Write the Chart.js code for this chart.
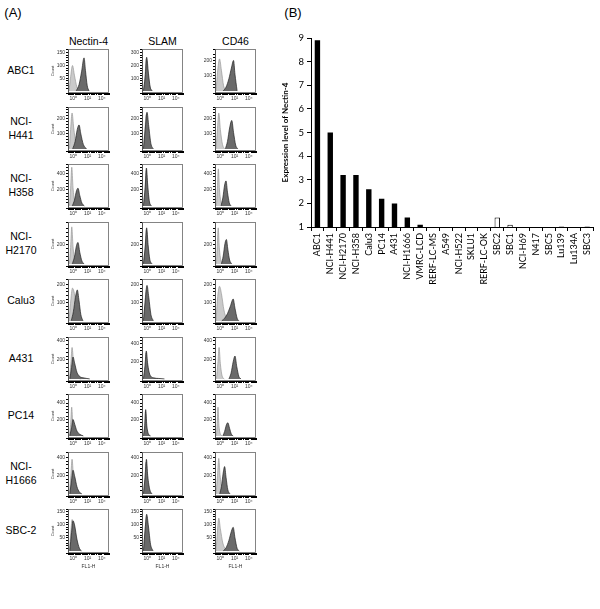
<!DOCTYPE html>
<html>
<head>
<meta charset="utf-8">
<script src="https://cdn.jsdelivr.net/npm/chart.js@4.4.1/dist/chart.umd.min.js"></script>
<style>
  body { margin: 0; background: #fff; }
  #fig { position: relative; width: 600px; height: 609px; overflow: hidden; background: #fff;
         font-family: 'Liberation Sans', Arial, sans-serif; color: #000; }
  .lbl { position: absolute; white-space: pre-line; text-align: center; transform: translate(-50%, -50%); }
  canvas { position: absolute; }
</style>
</head>
<body>
<div id="fig"></div>
<script>
// ---- panel A data ----
const cellLines = ['ABC1', 'NCI-\nH441', 'NCI-\nH358', 'NCI-\nH2170', 'Calu3', 'A431', 'PC14', 'NCI-\nH1666', 'SBC-2'];
const markers = ['Nectin-4', 'SLAM', 'CD46'];

// y axis top (count) and labelled step, per row, per marker
const yMaxes = [
  [165, 330, 275], [280, 280, 280], [520, 520, 520], [430, 430, 430], [230, 230, 230],
  [440, 480, 440], [510, 510, 510], [460, 460, 460], [160, 160, 160]
];
const yMajor = [
  [50, 100, 100], [100, 100, 100], [200, 200, 200], [200, 200, 200], [100, 100, 100],
  [200, 200, 200], [200, 200, 200], [200, 200, 200], [50, 50, 50]
];
// x axis is log10(FL1-H); labelled decades
const xTickValues = [0, 2, 4];
const xTickLabels = ['10\u2070', '10\u00B2', '10\u2074'];

// histogram outlines: [log10 FL1-H, count], one list per marker (Nectin-4, SLAM, CD46)
const abc1Ctrl = [
  [[-0.6, 0], [-0.4, 50], [-0.12, 100], [0.15, 62], [0.5, 15], [0.95, 0]],
  [[-0.55, 0], [-0.35, 100], [-0.15, 250], [0.1, 130], [0.35, 30], [0.65, 0]],
  [[-0.6, 0], [-0.4, 120], [-0.12, 210], [0.15, 135], [0.45, 35], [0.85, 0]]
];
const abc1Sample = [
  [[0.4, 0], [0.8, 25], [1.15, 75], [1.5, 130], [1.7, 80], [1.95, 20], [2.2, 0]],
  [[-0.55, 0], [-0.3, 110], [-0.1, 265], [0.15, 140], [0.4, 30], [0.7, 0]],
  [[0.4, 0], [0.8, 25], [1.2, 80], [1.55, 150], [1.85, 200], [2.05, 110], [2.35, 0]]
];
const h441Ctrl = [
  [[-0.55, 0], [-0.38, 130], [-0.18, 240], [0.05, 140], [0.35, 40], [0.7, 0]],
  [[-0.55, 0], [-0.35, 120], [-0.15, 230], [0.1, 120], [0.35, 25], [0.65, 0]],
  [[-0.6, 0], [-0.42, 120], [-0.22, 240], [0, 130], [0.3, 30], [0.6, 0]]
];
const h441Sample = [
  [[-0.1, 0], [0.25, 50], [0.55, 130], [0.8, 160], [1.05, 100], [1.4, 30], [1.85, 0]],
  [[-0.55, 0], [-0.3, 130], [-0.05, 245], [0.2, 150], [0.5, 35], [0.85, 0]],
  [[0.7, 0], [1.0, 50], [1.3, 140], [1.6, 190], [1.85, 110], [2.15, 25], [2.45, 0]]
];
const h358Ctrl = [
  [[-0.55, 0], [-0.38, 220], [-0.22, 480], [-0.05, 230], [0.2, 50], [0.5, 0]],
  [[-0.55, 0], [-0.33, 200], [-0.16, 440], [0, 220], [0.25, 40], [0.5, 0]],
  [[-0.55, 0], [-0.42, 220], [-0.28, 460], [-0.12, 200], [0.12, 40], [0.45, 0]]
];
const h358Sample = [
  [[-0.15, 0], [0.15, 70], [0.45, 190], [0.65, 220], [0.9, 130], [1.2, 35], [1.55, 0]],
  [[-0.55, 0], [-0.3, 230], [-0.13, 470], [0.05, 260], [0.3, 50], [0.6, 0]],
  [[0.1, 0], [0.35, 100], [0.6, 260], [0.8, 310], [1.0, 170], [1.25, 40], [1.5, 0]]
];
const h2170Ctrl = [
  [[-0.55, 0], [-0.38, 170], [-0.22, 380], [-0.05, 180], [0.2, 40], [0.5, 0]],
  [[-0.55, 0], [-0.32, 160], [-0.13, 350], [0.05, 170], [0.3, 30], [0.55, 0]],
  [[-0.55, 0], [-0.43, 180], [-0.3, 370], [-0.15, 170], [0.08, 35], [0.4, 0]]
];
const h2170Sample = [
  [[-0.15, 0], [0.15, 70], [0.45, 190], [0.65, 220], [0.9, 120], [1.2, 30], [1.5, 0]],
  [[-0.55, 0], [-0.3, 170], [-0.1, 370], [0.1, 200], [0.35, 45], [0.65, 0]],
  [[0.15, 0], [0.4, 80], [0.65, 210], [0.85, 250], [1.05, 150], [1.3, 40], [1.6, 0]]
];
const calu3Ctrl = [
  [[-0.6, 0], [-0.4, 95], [-0.12, 180], [0.15, 150], [0.45, 70], [0.8, 15], [1.1, 0]],
  [[-0.55, 0], [-0.35, 90], [-0.15, 170], [0.1, 100], [0.35, 25], [0.65, 0]],
  [[-0.6, 0], [-0.4, 120], [-0.12, 190], [0.15, 150], [0.5, 60], [0.85, 15], [1.2, 0]]
];
const calu3Sample = [
  [[-0.3, 0], [0, 50], [0.3, 130], [0.55, 170], [0.8, 110], [1.05, 35], [1.35, 0]],
  [[-0.55, 0], [-0.32, 100], [-0.05, 195], [0.2, 130], [0.5, 35], [0.85, 0]],
  [[0.2, 0], [0.6, 15], [1.0, 40], [1.4, 80], [1.8, 120], [2.05, 70], [2.35, 15], [2.6, 0]]
];
const a431Ctrl = [
  [[-0.55, 0], [-0.35, 160], [-0.18, 330], [0, 200], [0.3, 60], [0.7, 10], [1.1, 0]],
  [[-0.55, 0], [-0.35, 130], [-0.18, 300], [0, 150], [0.3, 35], [0.6, 0]],
  [[-0.55, 0], [-0.35, 160], [-0.18, 330], [0, 160], [0.25, 30], [0.55, 0]]
];
const a431Sample = [
  [[-0.5, 0], [-0.25, 120], [-0.05, 230], [0.2, 160], [0.5, 70], [0.9, 25], [1.5, 10], [2.3, 0]],
  [[-0.55, 0], [-0.32, 150], [-0.15, 320], [0.05, 170], [0.35, 50], [0.9, 12], [1.6, 5], [2.4, 0]],
  [[1.2, 0], [1.5, 60], [1.8, 180], [2.05, 240], [2.3, 130], [2.6, 25], [2.9, 0]]
];
const pc14Ctrl = [
  [[-0.55, 0], [-0.38, 140], [-0.23, 350], [-0.08, 140], [0.15, 30], [0.45, 0]],
  [[-0.55, 0], [-0.38, 110], [-0.26, 300], [-0.13, 110], [0.05, 20], [0.3, 0]],
  [[-0.55, 0], [-0.44, 150], [-0.33, 350], [-0.2, 130], [0, 25], [0.25, 0]]
];
const pc14Sample = [
  [[-0.5, 0], [-0.25, 100], [-0.05, 200], [0.2, 140], [0.5, 60], [0.9, 20], [1.4, 0]],
  [[-0.55, 0], [-0.36, 130], [-0.23, 320], [-0.08, 130], [0.15, 25], [0.45, 0]],
  [[0.35, 0], [0.6, 55], [0.85, 135], [1.05, 160], [1.3, 90], [1.55, 20], [1.8, 0]]
];
const h1666Ctrl = [
  [[-0.55, 0], [-0.35, 200], [-0.18, 380], [0, 210], [0.3, 50], [0.65, 0]],
  [[-0.55, 0], [-0.35, 160], [-0.18, 350], [0, 170], [0.3, 30], [0.55, 0]],
  [[-0.6, 0], [-0.4, 200], [-0.22, 390], [-0.05, 210], [0.25, 50], [0.6, 0]]
];
const h1666Sample = [
  [[-0.5, 0], [-0.25, 150], [-0.05, 260], [0.2, 190], [0.5, 80], [0.85, 20], [1.2, 0]],
  [[-0.55, 0], [-0.32, 180], [-0.13, 380], [0.05, 200], [0.35, 45], [0.65, 0]],
  [[-0.1, 0], [0.15, 80], [0.4, 230], [0.6, 300], [0.8, 180], [1.05, 45], [1.35, 0]]
];
const sbc2Ctrl = [
  [[-0.55, 0], [-0.35, 75], [-0.18, 120], [0.05, 95], [0.35, 40], [0.7, 8], [1.0, 0]],
  [[-0.55, 0], [-0.35, 70], [-0.13, 130], [0.05, 85], [0.35, 20], [0.65, 0]],
  [[-0.6, 0], [-0.42, 70], [-0.22, 125], [0, 85], [0.35, 30], [0.7, 8], [1.05, 0]]
];
const sbc2Sample = [
  [[-0.5, 0], [-0.25, 70], [-0.05, 115], [0.2, 95], [0.5, 45], [0.85, 10], [1.15, 0]],
  [[-0.55, 0], [-0.3, 85], [-0.1, 140], [0.15, 95], [0.45, 25], [0.8, 0]],
  [[0.4, 0], [0.8, 12], [1.2, 40], [1.55, 75], [1.8, 90], [2.05, 50], [2.35, 10], [2.65, 0]]
];

const controls = [abc1Ctrl, h441Ctrl, h358Ctrl, h2170Ctrl, calu3Ctrl, a431Ctrl, pc14Ctrl, h1666Ctrl, sbc2Ctrl];
const samples = [abc1Sample, h441Sample, h358Sample, h2170Sample, calu3Sample, a431Sample, pc14Sample, h1666Sample, sbc2Sample];

// ---- panel B data ----
const barLabels = ['ABC1', 'NCI-H441', 'NCI-H2170', 'NCI-H358', 'Calu3', 'PC14', 'A431', 'NCI-H1666',
  'VMRC-LCD', 'RERF-LC-MS', 'A549', 'NCI-H522', 'SKLU1', 'RERF-LC-OK',
  'SBC2', 'SBC1', 'NCI-H69', 'N417', 'SBC5', 'Lu139', 'Lu134A', 'SBC3'];
const barValues = [8.9, 5.0, 3.2, 3.2, 2.6, 2.2, 2.0, 1.4, 1.1, 1, 1, 1, 1, 1,
  1.4, 1.1, 1, 1, 1, 1.02, 1, 1.02];
const barGroups = ['NSCLC', 'NSCLC', 'NSCLC', 'NSCLC', 'NSCLC', 'NSCLC', 'NSCLC', 'NSCLC', 'NSCLC',
  'NSCLC', 'NSCLC', 'NSCLC', 'NSCLC', 'NSCLC',
  'SCLC', 'SCLC', 'SCLC', 'SCLC', 'SCLC', 'SCLC', 'SCLC', 'SCLC'];

// ---- layout ----
const fig = document.getElementById('fig');
const colX = [68, 142, 215];      // left axis of each column
const rowTop0 = 48, rowPitch = 57.5;
const boxW = 41, boxH = 45, yAxisW = 18;
const xMin = -0.75, xMax = 5.0;

// log-style minor tick marks along the decade axis
const xTickMarks = [];
for (let e = -1; e <= 5; e++) {
  for (let k = 1; k <= 9; k++) {
    const v = e + Math.log10(k);
    if (v >= xMin && v <= xMax) xTickMarks.push(v);
  }
}

function addText(text, x, y, size, weight) {
  const el = document.createElement('div');
  el.className = 'lbl';
  el.textContent = text;
  el.style.left = x + 'px';
  el.style.top = y + 'px';
  el.style.fontSize = size + 'px';
  el.style.lineHeight = Math.round(size * 1.3) + 'px';
  if (weight) el.style.fontWeight = weight;
  fig.appendChild(el);
}

function addCanvas(x, y, w, h) {
  const c = document.createElement('canvas');
  c.width = w; c.height = h;
  c.style.left = x + 'px'; c.style.top = y + 'px';
  c.style.width = w + 'px'; c.style.height = h + 'px';
  fig.appendChild(c);
  return c;
}

const boxPlugin = {
  id: 'box',
  afterDraw(chart) {
    const a = chart.chartArea, ctx = chart.ctx;
    ctx.save();
    ctx.strokeStyle = '#666';
    ctx.lineWidth = 0.8;
    ctx.strokeRect(Math.round(a.left) + 0.5, Math.round(a.top) + 0.5,
      Math.round(a.right - a.left) - 1, Math.round(a.bottom - a.top) - 1);
    ctx.restore();
  }
};

const toPoints = pts => pts.map(([d, n]) => ({ x: d, y: n }));

function drawHistogram(r, c) {
  const last = r === cellLines.length - 1;
  const xH = last ? 17 : 10;
  const top = Math.round(rowTop0 + r * rowPitch);
  const canvas = addCanvas(colX[c] - yAxisW, top - 3, yAxisW + boxW + 3, 3 + boxH + xH);
  const yMax = yMaxes[r][c], major = yMajor[r][c];
  const tickFont = { family: 'Liberation Sans', size: 5 };

  new Chart(canvas, {
    type: 'line',
    data: {
      datasets: [
        { data: toPoints(samples[r][c]), fill: 'origin', backgroundColor: '#6a6a6a', borderColor: '#222',
          borderWidth: 0.7, pointRadius: 0, cubicInterpolationMode: 'monotone' },
        { data: toPoints(controls[r][c]), fill: 'origin', backgroundColor: '#cacaca', borderColor: '#9a9a9a',
          borderWidth: 0.7, pointRadius: 0, cubicInterpolationMode: 'monotone' }
      ]
    },
    options: {
      responsive: false,
      animation: false,
      events: [],
      layout: { padding: { top: 3, right: 3, left: 0, bottom: 0 } },
      plugins: { legend: { display: false }, tooltip: { enabled: false } },
      scales: {
        x: {
          type: 'linear',
          min: xMin, max: xMax,
          afterBuildTicks: s => { s.ticks = xTickMarks.map(v => ({ value: v })); },
          afterFit: s => { s.height = xH; },
          border: { color: '#000', width: 1 },
          grid: { drawOnChartArea: false, tickLength: 2, color: '#000' },
          ticks: {
            autoSkip: false, maxRotation: 0, minRotation: 0, padding: 1, color: '#333', font: tickFont,
            callback: v => {
              const i = xTickValues.findIndex(t => Math.abs(t - v) < 1e-9);
              return i >= 0 ? xTickLabels[i] : '';
            }
          },
          title: { display: last, text: 'FL1-H', font: { family: 'Liberation Sans', size: 5 }, color: '#333', padding: 0 }
        },
        y: {
          min: -yMax * 0.05, max: yMax,
          afterFit: s => { s.width = yAxisW; },
          border: { color: '#000', width: 1 },
          grid: { drawOnChartArea: false, tickLength: 2, color: '#000' },
          ticks: {
            stepSize: major / 5, padding: 1, color: '#333', font: tickFont, autoSkip: false,
            callback: v => (v >= 0 && Math.abs(v % major) < 1e-6) ? String(v) : ''
          },
          title: { display: c === 0, text: 'Count', font: { family: 'Liberation Sans', size: 4 }, color: '#333', padding: 0 }
        }
      }
    },
    plugins: [boxPlugin]
  });
}

// ---- panel A ----
addText('(A)', 13, 12, 13);
markers.forEach((m, c) => addText(m, colX[c] + boxW / 2, 41, 10.5));
cellLines.forEach((name, r) => {
  addText(name, 21, rowTop0 + r * rowPitch + 22, 10.5);
  markers.forEach((m, c) => drawHistogram(r, c));
});

// ---- panel B ----
addText('(B)', 293, 12, 13);
const barCanvas = addCanvas(280, 18, 320, 274);
new Chart(barCanvas, {
  type: 'bar',
  data: {
    labels: barLabels,
    datasets: [{
      data: barValues,
      backgroundColor: barGroups.map(g => g === 'NSCLC' ? '#000' : '#fff'),
      borderColor: '#000',
      borderWidth: barGroups.map(g => g === 'NSCLC' ? 0 : 1),
      barPercentage: 0.42,
      categoryPercentage: 1
    }]
  },
  options: {
    responsive: false,
    animation: false,
    events: [],
    layout: { padding: { top: 20, right: 2, left: 0, bottom: 0 } },
    plugins: { legend: { display: false }, tooltip: { enabled: false } },
    scales: {
      x: {
        afterFit: s => { s.height = 65; },
        border: { color: '#000', width: 1 },
        grid: { offset: true, drawOnChartArea: false, tickLength: 4, color: '#000' },
        ticks: { autoSkip: false, minRotation: 90, maxRotation: 90, padding: 2, color: '#000',
          font: { family: 'Lato', size: 9 } }
      },
      y: {
        min: 1, max: 9,
        afterFit: s => { s.width = 31; },
        border: { color: '#000', width: 1 },
        grid: { drawOnChartArea: false, tickLength: 4, color: '#000' },
        ticks: { stepSize: 1, padding: 3, color: '#000', font: { family: 'Lato', size: 9.5 } },
        title: { display: true, text: 'Expression level of Nectin-4', color: '#000', padding: 1,
          font: { family: 'Lato', size: 8, weight: 'bold' } }
      }
    }
  }
});
</script>
</body>
</html>
